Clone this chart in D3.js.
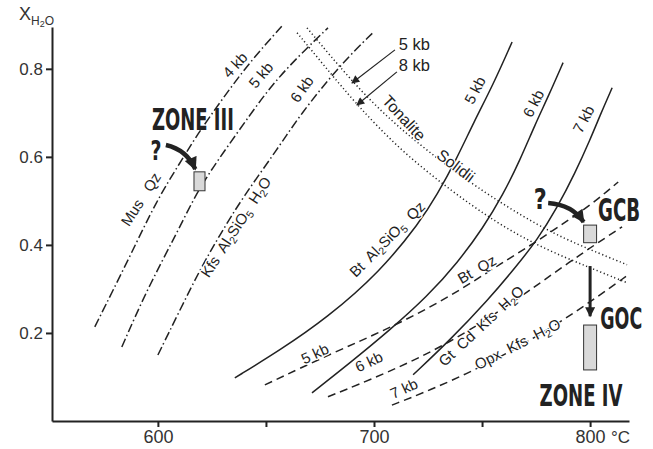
<!DOCTYPE html>
<html>
<head>
<meta charset="utf-8">
<script src="https://cdn.jsdelivr.net/npm/d3@7"></script>
<style>
body { margin: 0; background: #fff; }
svg { display: block; font-family: "Liberation Sans", Arial, sans-serif; }
.axis path, .axis line { stroke: #222; stroke-width: 2; }
.axis text { font-size: 17px; fill: #333; font-family: "Liberation Sans", Arial, sans-serif; }
.curve { fill: none; stroke: #222; stroke-width: 1.5; }
.lbl { fill: #222; white-space: pre; paint-order: stroke; stroke: #fff; stroke-width: 2.5px; stroke-linejoin: round; }
.zone { font-family: "Liberation Sans Narrow", "DejaVu Sans Condensed", sans-serif; font-weight: bold; fill: #222; }
</style>
</head>
<body>
<div class="chart"></div>
<script>
// [T degC, X H2O]
// dash-dot: Mus Qz = Kfs Al2SiO5 H2O at 4, 5, 6 kb
const musQz4 = [[570.8,0.214],[587.0,0.373],[599.5,0.502],[610.2,0.586],[618.1,0.650],[629.6,0.730],[642.6,0.816],[657.9,0.900]];
const musQz5 = [[583.3,0.168],[594.9,0.298],[608.8,0.427],[618.5,0.525],[630.1,0.609],[642.6,0.695],[652.8,0.764],[665.7,0.832],[678.7,0.893]];
const musQz6 = [[600.0,0.150],[610.2,0.252],[619.4,0.343],[628.7,0.423],[639.4,0.509],[655.1,0.616],[665.7,0.695],[684.3,0.809],[699.5,0.882]];
// solid: Bt Al2SiO5 Qz = Gt Cd Kfs H2O at 5, 6, 7 kb
const btAl5 = [[635.6,0.098],[656.5,0.161],[678.2,0.234],[702.8,0.339],[721.3,0.452],[729.2,0.514],[738.0,0.593],[746.3,0.680],[755.1,0.764],[763.9,0.861]];
const btAl6 = [[671.3,0.064],[688.9,0.132],[707.4,0.207],[724.5,0.282],[738.9,0.361],[750.5,0.439],[759.7,0.514],[767.6,0.593],[774.5,0.673],[781.0,0.741],[787.5,0.814]];
const btAl7 = [[718.1,0.105],[735.2,0.184],[752.8,0.275],[765.3,0.348],[775.5,0.411],[784.7,0.484],[793.1,0.564],[800.0,0.639],[805.1,0.700],[810.2,0.757]];
// dashed: Bt Qz = Opx Kfs H2O at 5, 6, 7 kb
const btQz5 = [[649.5,0.082],[681.0,0.155],[707.4,0.211],[735.2,0.282],[759.7,0.361],[772.2,0.398],[784.7,0.439],[800.0,0.489],[813.0,0.543]];
const btQz6 = [[678.7,0.055],[706.0,0.109],[735.2,0.177],[764.4,0.270],[776.9,0.314],[798.6,0.389],[814.8,0.441]];
const btQz7 = [[708.3,0.036],[725.9,0.070],[746.8,0.116],[766.2,0.166],[784.7,0.220],[801.4,0.275],[817.1,0.330]];
// dotted: tonalite solidii 5 and 8 kb
const tonalite5 = [[669.0,0.893],[690.3,0.768],[707.4,0.684],[725.9,0.609],[745.8,0.536],[776.9,0.439],[800.0,0.389],[817.1,0.355]];
const tonalite8 = [[664.4,0.882],[677.3,0.805],[692.1,0.718],[712.0,0.616],[733.8,0.530],[756.0,0.452],[776.9,0.395],[800.0,0.348],[817.1,0.314]];

// sample ranges [Tmin, Tmax, Xmin, Xmax]
const zone3Box = [616.7, 621.8, 0.523, 0.566];
const gcbBox = [797.0, 803.0, 0.405, 0.445];
const gocBox = [797.0, 803.0, 0.116, 0.218];

const xTicks = [600, 650, 700, 750, 800];
const xLabelled = [600, 700, 800];
const yTicks = [0.2, 0.4, 0.6, 0.8];

const curves = [
  {pts: musQz4, dash: "9,3,1.5,3"},
  {pts: musQz5, dash: "9,3,1.5,3"},
  {pts: musQz6, dash: "9,3,1.5,3"},
  {pts: btAl5, dash: null},
  {pts: btAl6, dash: null},
  {pts: btAl7, dash: null},
  {pts: btQz5, dash: "8,5"},
  {pts: btQz6, dash: "8,5"},
  {pts: btQz7, dash: "8,5"},
  {pts: tonalite5, dash: "1.2,2.6"},
  {pts: tonalite8, dash: "1.2,2.6"}
];

// text along the curves: text, T, X, rotation, size
const curveLabels = [
  ["4 kb", 636.1, 0.807, -47, 15],
  ["5 kb", 648.1, 0.784, -50, 15],
  ["6 kb", 667.1, 0.752, -55, 15],
  ["Mus   Qz", 592.6, 0.502, -57, 15],
  ["Kfs  Al_2SiO_5  H_2O", 636.6, 0.439, -57, 15],
  ["Bt  Al_2SiO_5  Qz", 706.5, 0.411, -45, 15],
  ["5 kb", 747.2, 0.750, -62, 15],
  ["6 kb", 774.3, 0.720, -62, 15],
  ["7 kb", 797.5, 0.684, -62, 15],
  ["Tonalite", 713.4, 0.686, 47, 16],
  ["Solidii", 737.5, 0.577, 37, 16],
  ["5 kb", 672.9, 0.150, -25, 15],
  ["6 kb", 697.9, 0.132, -25, 15],
  ["7 kb", 714.1, 0.071, -25, 15],
  ["Bt  Qz", 747.9, 0.342, -30, 15],
  ["Gt  Cd  Kfs  H_2O", 750.0, 0.214, -43, 15],
  ["Opx  Kfs  H_2O", 766.7, 0.172, -27, 15]
];

const width = 653, height = 449;

const x = d3.scaleLinear().domain([551, 818]).range([52, 629]);
const y = d3.scaleLinear().domain([0, 0.895]).range([421, 27]);

const svg = d3.select(".chart").append("svg")
  .attr("width", width)
  .attr("height", height);

const defs = svg.append("defs");
function marker(id, w, h) {
  defs.append("marker")
    .attr("id", id)
    .attr("viewBox", "0 0 10 10")
    .attr("refX", 9).attr("refY", 5)
    .attr("markerUnits", "userSpaceOnUse")
    .attr("markerWidth", w).attr("markerHeight", h)
    .attr("orient", "auto")
    .append("path").attr("d", "M0,0L10,5L0,10z").attr("fill", "#222");
}
marker("thin", 14, 8);
marker("thick", 14, 13);
marker("down", 13, 10);

// axes
svg.append("g")
  .attr("class", "axis x-axis")
  .attr("transform", "translate(0,421)")
  .call(d3.axisBottom(x).tickValues(xTicks).tickSize(6).tickSizeOuter(0).tickPadding(3)
    .tickFormat(d => xLabelled.includes(d) ? d : ""))
  .selectAll("text").style("font-size", "18px");

svg.append("g")
  .attr("class", "axis y-axis")
  .attr("transform", "translate(52,0)")
  .call(d3.axisLeft(y).tickValues(yTicks).tickSize(6).tickSizeOuter(0).tickPadding(3)
    .tickFormat(d3.format(".1f")));

svg.append("text")
  .attr("x", 611).attr("y", 443)
  .style("font-size", "17px").attr("fill", "#333")
  .text("\u00B0C");

const yl = svg.append("text").attr("x", 19).attr("y", 20).attr("fill", "#333").style("font-size", "18px");
yl.append("tspan").text("X");
yl.append("tspan").attr("dy", 5).style("font-size", "12px").text("H");
yl.append("tspan").attr("dy", 2).style("font-size", "9px").text("2");
yl.append("tspan").attr("dy", -2).style("font-size", "12px").text("O");

// curves
const line = d3.line().x(d => x(d[0])).y(d => y(d[1])).curve(d3.curveBasis);
svg.selectAll(".curve")
  .data(curves)
  .enter()
  .append("path")
    .attr("class", "curve")
    .attr("d", d => line(d.pts))
    .attr("stroke-dasharray", d => d.dash)
    .attr("stroke-width", d => d.dash && d.dash.startsWith("1.2") ? 1.6 : 1.5);

// text with _n subscripts
function rich(sel, str, size) {
  const parts = str.split(/_(\d)/);
  let down = false;
  parts.forEach((p, i) => {
    if (i % 2 === 1) {
      sel.append("tspan").attr("dy", size * 0.28).style("font-size", (size * 0.7) + "px").text(p);
      down = true;
    } else if (p !== "") {
      const t = sel.append("tspan").text(p);
      if (down) { t.attr("dy", -size * 0.28); down = false; }
    }
  });
}

curveLabels.forEach(d => {
  const t = svg.append("text")
    .attr("class", "lbl")
    .attr("text-anchor", "middle")
    .attr("dominant-baseline", "middle")
    .style("font-size", d[4] + "px")
    .attr("transform", "translate(" + x(d[1]) + "," + y(d[2]) + ") rotate(" + d[3] + ")");
  rich(t, d[0], d[4]);
});

// pressure notes for the solidii
svg.append("text").attr("class", "lbl").style("font-size", "16.5px")
  .attr("x", x(711.5)).attr("y", y(0.852)).attr("dominant-baseline", "middle").text("5 kb");
svg.append("text").attr("class", "lbl").style("font-size", "16.5px")
  .attr("x", x(711.5)).attr("y", y(0.805)).attr("dominant-baseline", "middle").text("8 kb");
svg.append("line").attr("stroke", "#222").attr("stroke-width", 1.2)
  .attr("x1", x(709.7)).attr("y1", y(0.843)).attr("x2", x(689.8)).attr("y2", y(0.768))
  .attr("marker-end", "url(#thin)");
svg.append("line").attr("stroke", "#222").attr("stroke-width", 1.2)
  .attr("x1", x(710.6)).attr("y1", y(0.793)).attr("x2", x(692.1)).attr("y2", y(0.718))
  .attr("marker-end", "url(#thin)");

// sample boxes
[zone3Box, gcbBox, gocBox].forEach(b => {
  svg.append("rect")
    .attr("x", x(b[0])).attr("y", y(b[3]))
    .attr("width", x(b[1]) - x(b[0])).attr("height", y(b[2]) - y(b[3]))
    .attr("fill", "#d9d9d9").attr("stroke", "#333").attr("stroke-width", 1);
});

// curved arrows from the question marks
function curved(a, c, b) {
  const p = d3.path();
  p.moveTo(x(a[0]), y(a[1]));
  p.quadraticCurveTo(x(c[0]), y(c[1]), x(b[0]), y(b[1]));
  svg.append("path").attr("d", p.toString())
    .attr("fill", "none").attr("stroke", "#222").attr("stroke-width", 4.5)
    .attr("marker-end", "url(#thick)");
}
curved([603.7, 0.627], [613.4, 0.616], [617.3, 0.572]);
curved([780.6, 0.495], [791.7, 0.491], [797.0, 0.452]);

svg.append("line").attr("stroke", "#222").attr("stroke-width", 3)
  .attr("x1", x(800)).attr("y1", y(0.352)).attr("x2", x(800)).attr("y2", y(0.238))
  .attr("marker-end", "url(#down)");

// bold labels: text, T, X, size, width
const bold = [
  ["ZONE III", 616.2, 0.685, 30, 82],
  ["GCB", 813.4, 0.480, 32, 42],
  ["GOC", 814.4, 0.232, 30, 42],
  ["ZONE IV", 795.8, 0.057, 30, 83],
  ["?", 599.1, 0.614, 27, 11],
  ["?", 776.9, 0.505, 29, 13]
];
bold.forEach(d => {
  const t = svg.append("text")
    .attr("class", "zone")
    .attr("text-anchor", "middle")
    .attr("dominant-baseline", "central")
    .style("font-size", d[3] + "px")
    .text(d[0]);
  const w = t.node().getComputedTextLength();
  t.attr("transform", "translate(" + x(d[1]) + "," + y(d[2]) + ") scale(" + (d[4] / w) + ",1)");
});
</script>
</body>
</html>
